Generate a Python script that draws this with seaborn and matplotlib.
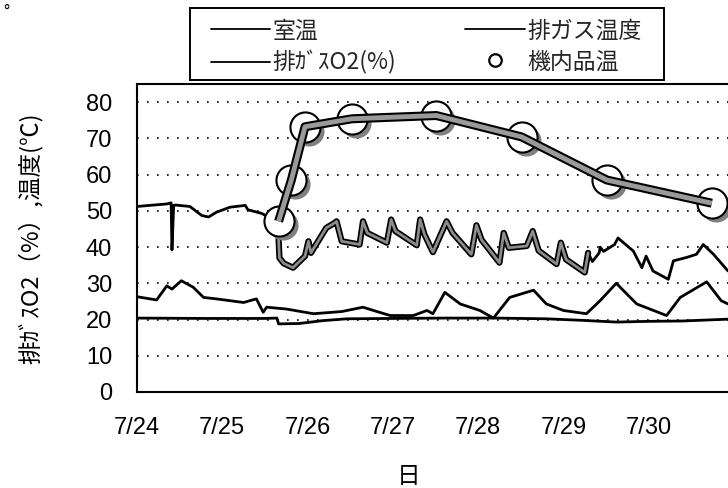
import matplotlib
matplotlib.use('Agg')
import matplotlib.pyplot as plt
from matplotlib.lines import Line2D
from matplotlib.patches import Rectangle
from matplotlib.transforms import offset_copy
import pandas as pd
import seaborn as sns

# 日数 (7/24 0:00 からの経過日)
room_day = [0, 0.23, 0.35, 0.41, 0.52, 0.66, 0.78, 0.93, 1.25, 1.40, 1.48, 1.52, 1.75,
            2.07, 2.40, 2.65, 2.80, 2.97, 3.24, 3.40, 3.47, 3.61, 3.79, 4.02, 4.18, 4.37,
            4.65, 4.80, 5.00, 5.27, 5.43, 5.62, 5.86, 6.21, 6.37, 6.68, 6.85, 6.93]
room_temp = [26.3, 25.4, 29.3, 28.4, 30.7, 28.9, 26.1, 25.7, 24.7, 25.7, 22.0, 23.4, 22.9,
             21.6, 22.2, 23.4, 22.3, 21.1, 21.1, 22.5, 21.6, 27.5, 24.3, 22.5, 20.4, 26.1,
             28.1, 24.3, 22.5, 21.6, 25.2, 30.0, 24.3, 21.1, 26.1, 30.4, 25.2, 24.3]

gas_day = [0, 0.35, 0.40, 0.41, 0.43, 0.45, 0.62, 0.76, 0.84, 0.93, 1.09, 1.27, 1.30, 1.46,
           1.55, 1.65, 1.66, 1.67, 1.72, 1.83, 1.97, 2.01, 2.04, 2.22, 2.32, 2.34, 2.40,
           2.61, 2.65, 2.70, 2.93, 2.98, 3.03, 3.28, 3.32, 3.37, 3.47, 3.63, 3.70, 3.92,
           3.98, 4.04, 4.25, 4.30, 4.36, 4.57, 4.64, 4.71, 4.92, 4.97, 5.03, 5.25, 5.29,
           5.34, 5.42, 5.43, 5.47, 5.60, 5.64, 5.82, 5.92, 5.97, 6.05, 6.23, 6.29, 6.44,
           6.56, 6.64, 6.76, 6.93]
gas_temp = [51.2, 51.9, 52.2, 39.2, 51.5, 51.6, 51.2, 48.7, 48.3, 49.6, 51.0, 51.5, 50.3, 49.3,
            48.2, 45.0, 42.5, 37.0, 35.5, 34.3, 37.5, 41.6, 38.4, 45.3, 46.7, 47.1, 41.6,
            40.7, 47.1, 43.9, 41.2, 47.6, 44.4, 40.5, 47.6, 43.5, 38.6, 47.1, 43.9, 38.0,
            46.0, 42.0, 35.7, 43.9, 39.8, 40.3, 44.4, 39.0, 35.3, 41.2, 36.6, 33.0, 38.4,
            36.0, 38.4, 40.0, 38.8, 40.7, 42.5, 38.9, 34.3, 37.5, 33.4, 31.1, 36.2, 37.1,
            38.0, 40.7, 38.0, 33.4]

o2_day = [0, 0.8, 1.5, 1.64, 1.66, 1.9, 2.18, 2.46, 3.0, 3.6, 4.2, 4.8, 5.2, 5.62, 6.0, 6.4, 6.93]
o2_pct = [20.4, 20.3, 20.3, 20.4, 18.8, 18.9, 19.7, 20.2, 20.3, 20.4, 20.4, 20.2, 19.8, 19.3,
          19.5, 19.6, 20.1]

item_day = [1.66, 1.81, 1.97, 2.52, 3.51, 4.51, 5.51, 6.74]
item_temp = [47.1, 58.5, 73.2, 75.4, 76.3, 70.4, 58.5, 52.1]

tick_days = [0, 1, 2, 3, 4, 5, 6]
tick_labels = ['7/24', '7/25', '7/26', '7/27', '7/28', '7/29', '7/30']
legend_labels = ['室温', '排ｶﾞｽO2(%)', '排ガス温度', '機内品温']

sns.set_theme(style='white')
plt.rcParams['font.family'] = ['Noto Sans CJK JP', 'DejaVu Sans']

fig = plt.figure(figsize=(7.28, 4.88), dpi=100)
ax = fig.add_axes([137 / 728, 96 / 488, 591 / 728, 308 / 488])

df_room = pd.DataFrame({'day': room_day, 'val': room_temp})
df_gas = pd.DataFrame({'day': gas_day, 'val': gas_temp})
df_o2 = pd.DataFrame({'day': o2_day, 'val': o2_pct})
df_item = pd.DataFrame({'day': item_day, 'val': item_temp})

sns.lineplot(data=df_room, x='day', y='val', ax=ax, color='black', lw=2, estimator=None, sort=False)
sns.lineplot(data=df_o2, x='day', y='val', ax=ax, color='black', lw=2, estimator=None, sort=False)
sns.lineplot(data=df_gas, x='day', y='val', ax=ax, color='black', lw=2, estimator=None, sort=False)

# 運転中の排ガス温度は太い網掛け線
band = df_gas[(df_gas['day'] >= 1.66) & (df_gas['day'] <= 5.3)]
sns.lineplot(data=band, x='day', y='val', ax=ax, color='black', lw=4.5, estimator=None, sort=False)
sns.lineplot(data=band, x='day', y='val', ax=ax, color='#8c8c8c', lw=2.0, estimator=None, sort=False)

# 機内品温：影付きの丸と太線
shadow = offset_copy(ax.transData, fig=fig, x=4, y=-4, units='dots')
ax.scatter(df_item['day'], df_item['val'], s=470, color='#808080', linewidths=0,
           transform=shadow, zorder=3)
sns.scatterplot(data=df_item, x='day', y='val', ax=ax, s=470, color='white',
                edgecolor='black', linewidth=1.5, zorder=4)
sns.lineplot(data=df_item, x='day', y='val', ax=ax, color='black', lw=6.5,
             estimator=None, sort=False, zorder=5, solid_joinstyle='round', solid_capstyle='butt')
sns.lineplot(data=df_item, x='day', y='val', ax=ax, color='#9a9a9a', lw=3.5,
             estimator=None, sort=False, zorder=6, solid_joinstyle='round', solid_capstyle='butt')

ax.set_xlim(0, 6.93)
ax.set_ylim(0, 85)
ax.set_xticks(tick_days, tick_labels)
ax.set_yticks(range(0, 81, 10))
ax.tick_params(direction='in', length=5, width=1.2, pad=18, labelsize=17, colors='black')
for lbl in ax.get_xticklabels() + ax.get_yticklabels():
    lbl.set_fontfamily('Liberation Sans')

ax.yaxis.grid(True, color='black', linestyle=(0, (1, 5)), linewidth=1.2)
ax.xaxis.grid(False)
ax.spines['right'].set_visible(False)
for s in ['left', 'bottom', 'top']:
    ax.spines[s].set_color('black')
    ax.spines[s].set_linewidth(1.5)

ax.set_xlabel('日', fontsize=17, color='black')
ax.xaxis.set_label_coords((409 - 137) / 591, (392 - 465) / 308)
ax.set_ylabel('排ｶﾞｽO2（%）,温度(℃)', fontsize=17, color='black')
ax.yaxis.label.set_va('center')
ax.yaxis.set_label_coords((30 - 137) / 591, 0.5)

# 凡例
handles = [
    Line2D([], [], color='black', lw=1.3),
    Line2D([], [], color='black', lw=1.3),
    Line2D([], [], color='black', lw=1.3),
    Line2D([], [], marker='o', ls='none', mfc='none', mec='black', ms=9, mew=1.6),
]
fig.legend(handles, legend_labels, ncol=2, loc='center', bbox_to_anchor=(426 / 728, 1 - 47 / 488),
           frameon=False, fontsize=16.5, handlelength=2.6, handletextpad=0.1,
           columnspacing=3.0, labelspacing=0.35, borderpad=0)
fig.add_artist(Rectangle((190 / 728, 1 - 80 / 488), 474 / 728, 72 / 488, transform=fig.transFigure,
                         fill=False, edgecolor='black', lw=1.4))

fig.text(0.004, 0.992, '°', fontsize=12, va='top', ha='left', color='black')

fig.savefig('out.png', dpi=100)
